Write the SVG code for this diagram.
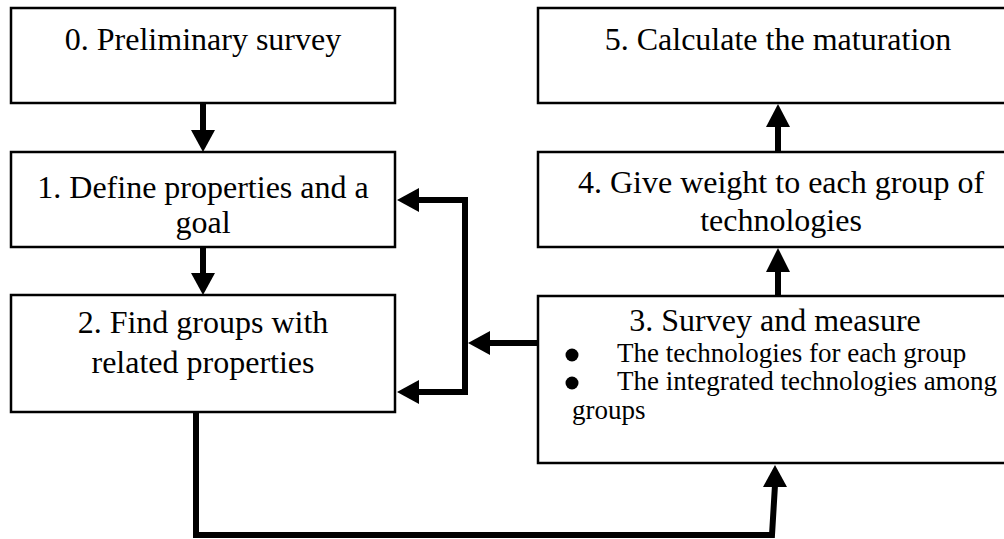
<svg xmlns="http://www.w3.org/2000/svg" width="1004" height="539" viewBox="0 0 1004 539">
  <style>
    .box { fill: #fff; stroke: #000; stroke-width: 2.5; }
    .t { font-family: "Liberation Serif", "Times New Roman", serif; font-size: 32px; fill: #000; text-anchor: middle; }
    .s { font-family: "Liberation Serif", "Times New Roman", serif; font-size: 27px; fill: #000; }
    .wire { fill: none; stroke: #000; stroke-width: 6; stroke-linejoin: miter; }
    .head { fill: #000; }
  </style>
  <rect width="1004" height="539" fill="#fff"/>

  <g id="node0">
    <rect class="box" x="11" y="8" width="384" height="95"/>
    <text class="t" x="203" y="50">0. Preliminary survey</text>
  </g>
  <g id="node1">
    <rect class="box" x="11" y="152" width="384" height="95"/>
    <text class="t" x="203" y="198">1. Define properties and a</text>
    <text class="t" x="203" y="233">goal</text>
  </g>
  <g id="node2">
    <rect class="box" x="11" y="295" width="384" height="117"/>
    <text class="t" x="203" y="333">2. Find groups with</text>
    <text class="t" x="203" y="373">related properties</text>
  </g>
  <g id="node5">
    <rect class="box" x="538" y="8" width="480" height="95"/>
    <text class="t" x="778" y="50">5. Calculate the maturation</text>
  </g>
  <g id="node4">
    <rect class="box" x="538" y="152" width="480" height="95"/>
    <text class="t" x="781" y="193">4. Give weight to each group of</text>
    <text class="t" x="781" y="231">technologies</text>
  </g>
  <g id="node3">
    <rect class="box" x="538" y="296" width="480" height="167"/>
    <text class="t" x="775" y="331">3. Survey and measure</text>
    <circle cx="572" cy="355" r="6.5"/>
    <text class="s" x="617" y="362">The technologies for each group</text>
    <circle cx="572" cy="383" r="6.5"/>
    <text class="s" x="617" y="390">The integrated technologies among</text>
    <text class="s" x="572" y="419">groups</text>
  </g>

  <g id="connectors">
    <!-- 0 -> 1 -->
    <line class="wire" x1="203" y1="103" x2="203" y2="132"/>
    <polygon class="head" points="191,130 215,130 203,152"/>
    <!-- 1 -> 2 -->
    <line class="wire" x1="203" y1="247" x2="203" y2="275"/>
    <polygon class="head" points="191,273 215,273 203,295"/>
    <!-- 4 -> 5 -->
    <line class="wire" x1="778" y1="152" x2="778" y2="125"/>
    <polygon class="head" points="766,127 790,127 778,104"/>
    <!-- 3 -> 4 -->
    <line class="wire" x1="778" y1="296" x2="778" y2="270"/>
    <polygon class="head" points="766,272 790,272 778,248"/>
    <!-- 3 -> back to 1 and 2 -->
    <line class="wire" x1="538" y1="343" x2="488" y2="343"/>
    <polygon class="head" points="490,331 490,355 468,343"/>
    <path class="wire" d="M418,200 H465 V392 H418" stroke-linejoin="round"/>
    <line x1="465" y1="200" x2="465" y2="392" stroke="#000" stroke-width="6" stroke-linecap="round"/>
    <polygon class="head" points="419,188 419,212 397,200"/>
    <polygon class="head" points="419,380 419,404 397,392"/>
    <!-- 2 -> 3 -->
    <path class="wire" d="M196,413 V535 H772 L775,485"/>
    <polygon class="head" points="763,487 787,487 775,465"/>
  </g>
</svg>
